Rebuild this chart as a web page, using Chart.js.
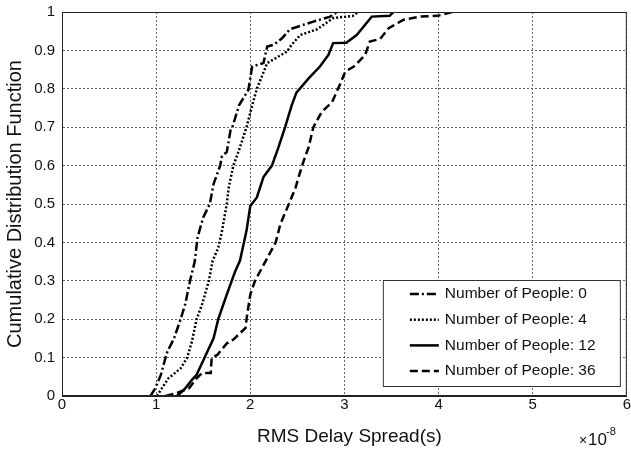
<!DOCTYPE html>
<html>
<head>
<meta charset="utf-8">
<script src="https://cdn.jsdelivr.net/npm/chart.js@4/dist/chart.umd.min.js"></script>
<style>
  body { margin: 0; background: #fff; }
  #wrap { width: 631px; height: 455px; }
</style>
</head>
<body>
<div id="wrap"><canvas id="cdfChart"></canvas></div>
<script>
// RMS delay spread, units of 1e-8 s ; CDF values
const people0X = [0.94, 0.99, 1.05, 1.10, 1.12, 1.19, 1.26, 1.31, 1.36, 1.41, 1.44, 1.50, 1.57, 1.61, 1.68, 1.70, 1.75, 1.79, 1.81, 1.88, 1.98, 2.02, 2.14, 2.18, 2.25, 2.34, 2.42, 2.67, 2.85, 2.92];
const people0Y = [0, 0.02, 0.055, 0.1, 0.116, 0.15, 0.2, 0.24, 0.3, 0.35, 0.413, 0.465, 0.5, 0.552, 0.6, 0.625, 0.635, 0.692, 0.70, 0.757, 0.797, 0.858, 0.867, 0.91, 0.915, 0.932, 0.955, 0.975, 0.988, 1.0];

const people4X = [1.01, 1.06, 1.13, 1.26, 1.33, 1.38, 1.43, 1.49, 1.56, 1.60, 1.66, 1.70, 1.75, 1.77, 1.82, 1.88, 1.96, 2.02, 2.07, 2.18, 2.39, 2.44, 2.53, 2.71, 2.88, 3.09, 3.15];
const people4Y = [0, 0.02, 0.046, 0.072, 0.1, 0.142, 0.2, 0.24, 0.3, 0.352, 0.386, 0.43, 0.5, 0.542, 0.6, 0.64, 0.70, 0.757, 0.80, 0.867, 0.897, 0.915, 0.94, 0.955, 0.984, 0.99, 1.0];

const people12X = [1.22, 1.26, 1.31, 1.38, 1.43, 1.52, 1.61, 1.66, 1.75, 1.84, 1.89, 1.96, 2.0, 2.07, 2.14, 2.23, 2.30, 2.37, 2.44, 2.49, 2.62, 2.74, 2.83, 2.88, 3.02, 3.13, 3.22, 3.29, 3.48, 3.52];
const people12Y = [0, 0.008, 0.02, 0.042, 0.055, 0.103, 0.15, 0.2, 0.264, 0.325, 0.352, 0.43, 0.495, 0.517, 0.57, 0.6, 0.648, 0.70, 0.757, 0.79, 0.827, 0.858, 0.888, 0.919, 0.92, 0.94, 0.967, 0.988, 0.99, 1.0];

const people36X = [1.10, 1.22, 1.35, 1.43, 1.49, 1.58, 1.59, 1.65, 1.75, 1.82, 1.95, 1.96, 2.0, 2.05, 2.16, 2.27, 2.32, 2.41, 2.48, 2.55, 2.62, 2.67, 2.76, 2.87, 2.95, 3.01, 3.10, 3.22, 3.27, 3.38, 3.47, 3.63, 3.80, 3.99, 4.15];
const people36Y = [0, 0.008, 0.02, 0.046, 0.06, 0.06, 0.1, 0.107, 0.137, 0.147, 0.177, 0.2, 0.264, 0.3, 0.35, 0.4, 0.448, 0.5, 0.542, 0.6, 0.648, 0.70, 0.74, 0.766, 0.81, 0.845, 0.858, 0.888, 0.923, 0.93, 0.958, 0.98, 0.988, 0.99, 1.0];

const seriesLabels = ['Number of People: 0', 'Number of People: 4', 'Number of People: 12', 'Number of People: 36'];
const xTickLabels = ['0', '1', '2', '3', '4', '5', '6'];
const yTickLabels = ['0', '0.1', '0.2', '0.3', '0.4', '0.5', '0.6', '0.7', '0.8', '0.9', '1'];
const xTitle = 'RMS Delay Spread(s)';
const yTitle = 'Cumulative Distribution Function';

function toPoints(xs, ys) {
    return xs.map((x, i) => ({ x: x, y: ys[i] }));
}

const FONT = '"Liberation Sans", Arial, sans-serif';
Chart.defaults.font.family = FONT;
Chart.defaults.color = '#111';

const dashes = [[9, 3, 2, 3], [2, 2], [], [8, 4]];
const allX = [people0X, people4X, people12X, people36X];
const allY = [people0Y, people4Y, people12Y, people36Y];

// рамка, подписи осей, легенда и множитель
const framePlugin = {
    id: 'frame',
    afterDraw(chart) {
        const ctx = chart.ctx;
        const a = chart.chartArea;
        ctx.save();
        ctx.strokeStyle = '#222';
        ctx.lineWidth = 1;
        ctx.strokeRect(a.left + 0.5, a.top + 0.5, a.right - a.left - 1, a.bottom - a.top - 1);

        // подписи осей
        ctx.fillStyle = '#111';
        ctx.textAlign = 'center';
        ctx.textBaseline = 'middle';
        ctx.font = '19px ' + FONT;
        ctx.fillText(xTitle, (a.left + a.right) / 2 + 5, 437);
        ctx.save();
        ctx.translate(15, (a.top + a.bottom) / 2);
        ctx.rotate(-Math.PI / 2);
        ctx.font = '20px ' + FONT;
        ctx.fillText(yTitle, 0, 0);
        ctx.restore();

        // легенда
        ctx.textAlign = 'left';
        const bw = 237, bh = 106;
        const bx = a.right - 7 - bw, by = a.bottom - 10 - bh;
        ctx.fillStyle = '#fff';
        ctx.fillRect(bx, by, bw, bh);
        ctx.strokeStyle = '#333';
        ctx.strokeRect(bx + 0.5, by + 0.5, bw, bh);
        ctx.font = '15.5px ' + FONT;
        chart.data.datasets.forEach((ds, i) => {
            const ry = by + 14 + i * 25.7;
            ctx.beginPath();
            ctx.setLineDash(ds.borderDash);
            ctx.lineWidth = 2.5;
            ctx.strokeStyle = '#000';
            ctx.moveTo(bx + 27, ry);
            ctx.lineTo(bx + 56, ry);
            ctx.stroke();
            ctx.setLineDash([]);
            ctx.fillStyle = '#111';
            ctx.fillText(ds.label, bx + 62, ry);
        });

        // множитель × 10^-8
        ctx.fillStyle = '#111';
        ctx.textBaseline = 'alphabetic';
        ctx.font = '14px ' + FONT;
        ctx.fillText('\u00d7', 579, 445);
        ctx.font = '17px ' + FONT;
        ctx.fillText('10', 588, 445);
        ctx.font = '11px ' + FONT;
        ctx.fillText('-8', 606, 435);
        ctx.restore();
    }
};

const ctx = document.getElementById('cdfChart').getContext('2d');
new Chart(ctx, {
    type: 'scatter',
    data: {
        datasets: seriesLabels.map((label, i) => ({
            label: label,
            data: toPoints(allX[i], allY[i]),
            showLine: true,
            borderColor: '#000',
            backgroundColor: '#000',
            borderWidth: 2.5,
            borderDash: dashes[i],
            pointRadius: 0,
            tension: 0
        }))
    },
    options: {
        responsive: true,
        maintainAspectRatio: false,
        animation: false,
        layout: { padding: { top: 12, right: 0, left: 0, bottom: 0 } },
        plugins: {
            legend: { display: false },
            tooltip: { enabled: false }
        },
        scales: {
            x: {
                type: 'linear',
                min: 0,
                max: 6,
                afterFit: s => { s.height = 59; },
                ticks: {
                    stepSize: 1,
                    padding: 0,
                    font: { size: 15 },
                    callback: v => xTickLabels[Math.round(v)]
                },
                grid: { color: '#666', lineWidth: 1, drawTicks: false },
                border: { color: '#222', width: 1, dash: [2, 2] }
            },
            y: {
                min: 0,
                max: 1,
                afterFit: s => { s.width = 62; s.paddingTop = 0; s.paddingBottom = 0; },
                ticks: {
                    stepSize: 0.1,
                    padding: 7,
                    font: { size: 15 },
                    callback: v => yTickLabels[Math.round(v * 10)]
                },
                grid: { color: '#666', lineWidth: 1, drawTicks: false },
                border: { color: '#222', width: 1, dash: [2, 2] }
            }
        }
    },
    plugins: [framePlugin]
});
</script>
</body>
</html>
